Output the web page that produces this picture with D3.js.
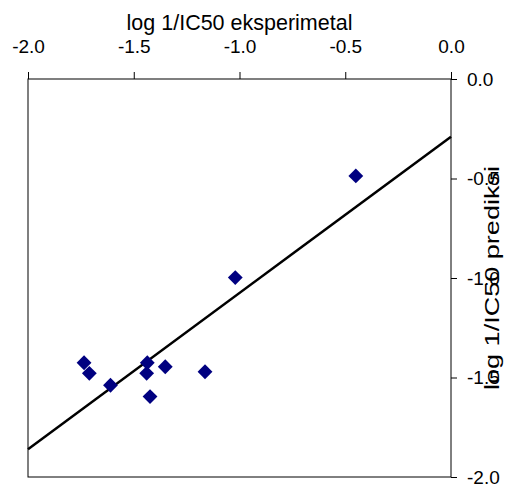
<!DOCTYPE html>
<html>
<head>
<meta charset="utf-8">
<script src="https://cdn.jsdelivr.net/npm/d3@7"></script>
<style>
  body { margin: 0; background: #fff; }
  svg { display: block; }
</style>
</head>
<body>
<div id="chart"></div>
<script>
// data
const expValues = [-0.45, -1.02, -1.735, -1.71, -1.61, -1.436, -1.439, -1.351, -1.163, -1.423];
const predValues = [-0.487, -0.998, -1.426, -1.479, -1.539, -1.426, -1.479, -1.446, -1.471, -1.596];
const trendX = [-2.0, 0.0];
const trendY = [-1.86, -0.29];
const xTicks = [-2.0, -1.5, -1.0, -0.5, 0.0];
const yTicks = [0.0, -0.5, -1.0, -1.5, -2.0];

const W = 513, H = 484;
const margin = { top: 79, right: 62, bottom: 7, left: 28 };
const width = W - margin.left - margin.right;
const height = H - margin.top - margin.bottom;
const font = 'Liberation Sans, Arial, sans-serif';

const svg = d3.select('#chart').append('svg')
  .attr('width', W)
  .attr('height', H);

const g = svg.append('g')
  .attr('transform', `translate(${margin.left},${margin.top})`);

const x = d3.scaleLinear().domain([-2, 0]).range([0, width]);
const y = d3.scaleLinear().domain([-2, 0]).range([height, 0]);

// plot frame
g.append('rect')
  .attr('width', width)
  .attr('height', height)
  .attr('fill', 'none')
  .attr('stroke', '#000')
  .attr('stroke-width', 1);

// top axis
g.append('g')
  .call(d3.axisTop(x)
    .tickValues(xTicks)
    .tickSize(7)
    .tickSizeOuter(0)
    .tickPadding(19)
    .tickFormat(d => d.toFixed(1)))
  .call(a => a.select('.domain').remove())
  .call(a => a.selectAll('.tick line').attr('stroke', '#000'))
  .call(a => a.selectAll('.tick text')
    .attr('fill', '#000')
    .style('font-family', font)
    .style('font-size', '19px'));

// right axis
g.append('g')
  .attr('transform', `translate(${width},0)`)
  .call(d3.axisRight(y)
    .tickValues(yTicks)
    .tickSize(6)
    .tickSizeOuter(0)
    .tickPadding(10)
    .tickFormat(d => d.toFixed(1)))
  .call(a => a.select('.domain').remove())
  .call(a => a.selectAll('.tick line').attr('stroke', '#000'))
  .call(a => a.selectAll('.tick text')
    .attr('fill', '#000')
    .style('font-family', font)
    .style('font-size', '19px'));

// axis titles
g.append('text')
  .attr('x', width / 2)
  .attr('y', -49)
  .attr('text-anchor', 'middle')
  .style('font-family', font)
  .style('font-size', '21.5px')
  .text('log 1/IC50 eksperimetal');

// the y title is drawn stretched along its length in the original
g.append('text')
  .attr('transform', `translate(${width + 48},${height / 2}) rotate(-90)`)
  .attr('text-anchor', 'middle')
  .attr('textLength', 224)
  .attr('lengthAdjust', 'spacingAndGlyphs')
  .style('font-family', font)
  .style('font-size', '19.5px')
  .text('log 1/IC50 prediksi');

// trend line
const line = d3.line()
  .x(d => x(d[0]))
  .y(d => y(d[1]));

g.append('path')
  .datum(d3.zip(trendX, trendY))
  .attr('fill', 'none')
  .attr('stroke', '#000')
  .attr('stroke-width', 2.5)
  .attr('d', line);

// points
const diamond = d3.symbol().type(d3.symbolSquare).size(110);
g.selectAll('.pt')
  .data(d3.zip(expValues, predValues))
  .join('path')
  .attr('class', 'pt')
  .attr('transform', d => `translate(${x(d[0])},${y(d[1])}) rotate(45)`)
  .attr('fill', '#000080')
  .attr('d', diamond);
</script>
</body>
</html>
